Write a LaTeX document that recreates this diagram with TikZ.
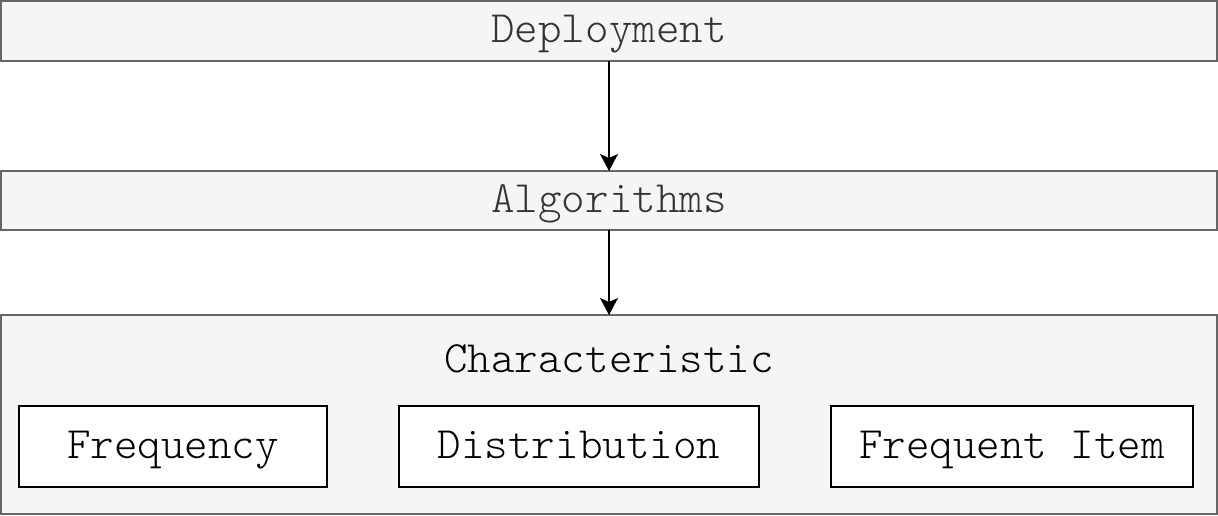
\documentclass[tikz,border=0pt]{standalone}
\usepackage{fontspec}
\setmonofont{Latin Modern Mono Light}
\usepackage{tikz}
\usetikzlibrary{positioning}
\usetikzlibrary{arrows.meta}
\definecolor{layerfill}{HTML}{F5F5F5}
\definecolor{layerdraw}{HTML}{666666}
\definecolor{layertext}{HTML}{333333}

\begin{document}
\begin{tikzpicture}[x=1pt,y=-1pt,
    every node/.style={font=\ttfamily\fontsize{44.8}{50}\selectfont, inner sep=0pt, outer sep=0pt, text height=23pt, text depth=0pt},
    layer/.style={draw=layerdraw, fill=layerfill, text=layertext, line width=1.7pt, minimum width=1216pt},
    item/.style={draw=black, fill=white, line width=1.7pt, minimum height=81pt}]
    \useasboundingbox (0,0) rectangle (1218,516);
    \node[layer, minimum height=60pt] (Deploy) at (609,31) {Deployment};
    \node[layer, minimum height=59pt] (Algo) at (609,200.5) {Algorithms};
    \node[layer, minimum height=199pt] (Char) at (609,414.5) {};
    \node[below=34.7pt of Char.north] (CharTitle) {Characteristic};
    
    \node[item, minimum width=308pt] (Freq) at (173,446.5) {Frequency};
    \node[item, minimum width=360pt] (Dist) at (579,446.5) {Distribution};
    \node[item, minimum width=362pt] (FreqItem) at (1012,446.5) {Frequent Item};
    
    \draw [-{Stealth[length=17pt, width=18pt, inset=4pt]}, line width=1.4pt] (Deploy) -- (Algo);
    \draw [-{Stealth[length=17pt, width=18pt, inset=4pt]}, line width=1.4pt] (Algo) -- (Char);
\end{tikzpicture}
\end{document}
